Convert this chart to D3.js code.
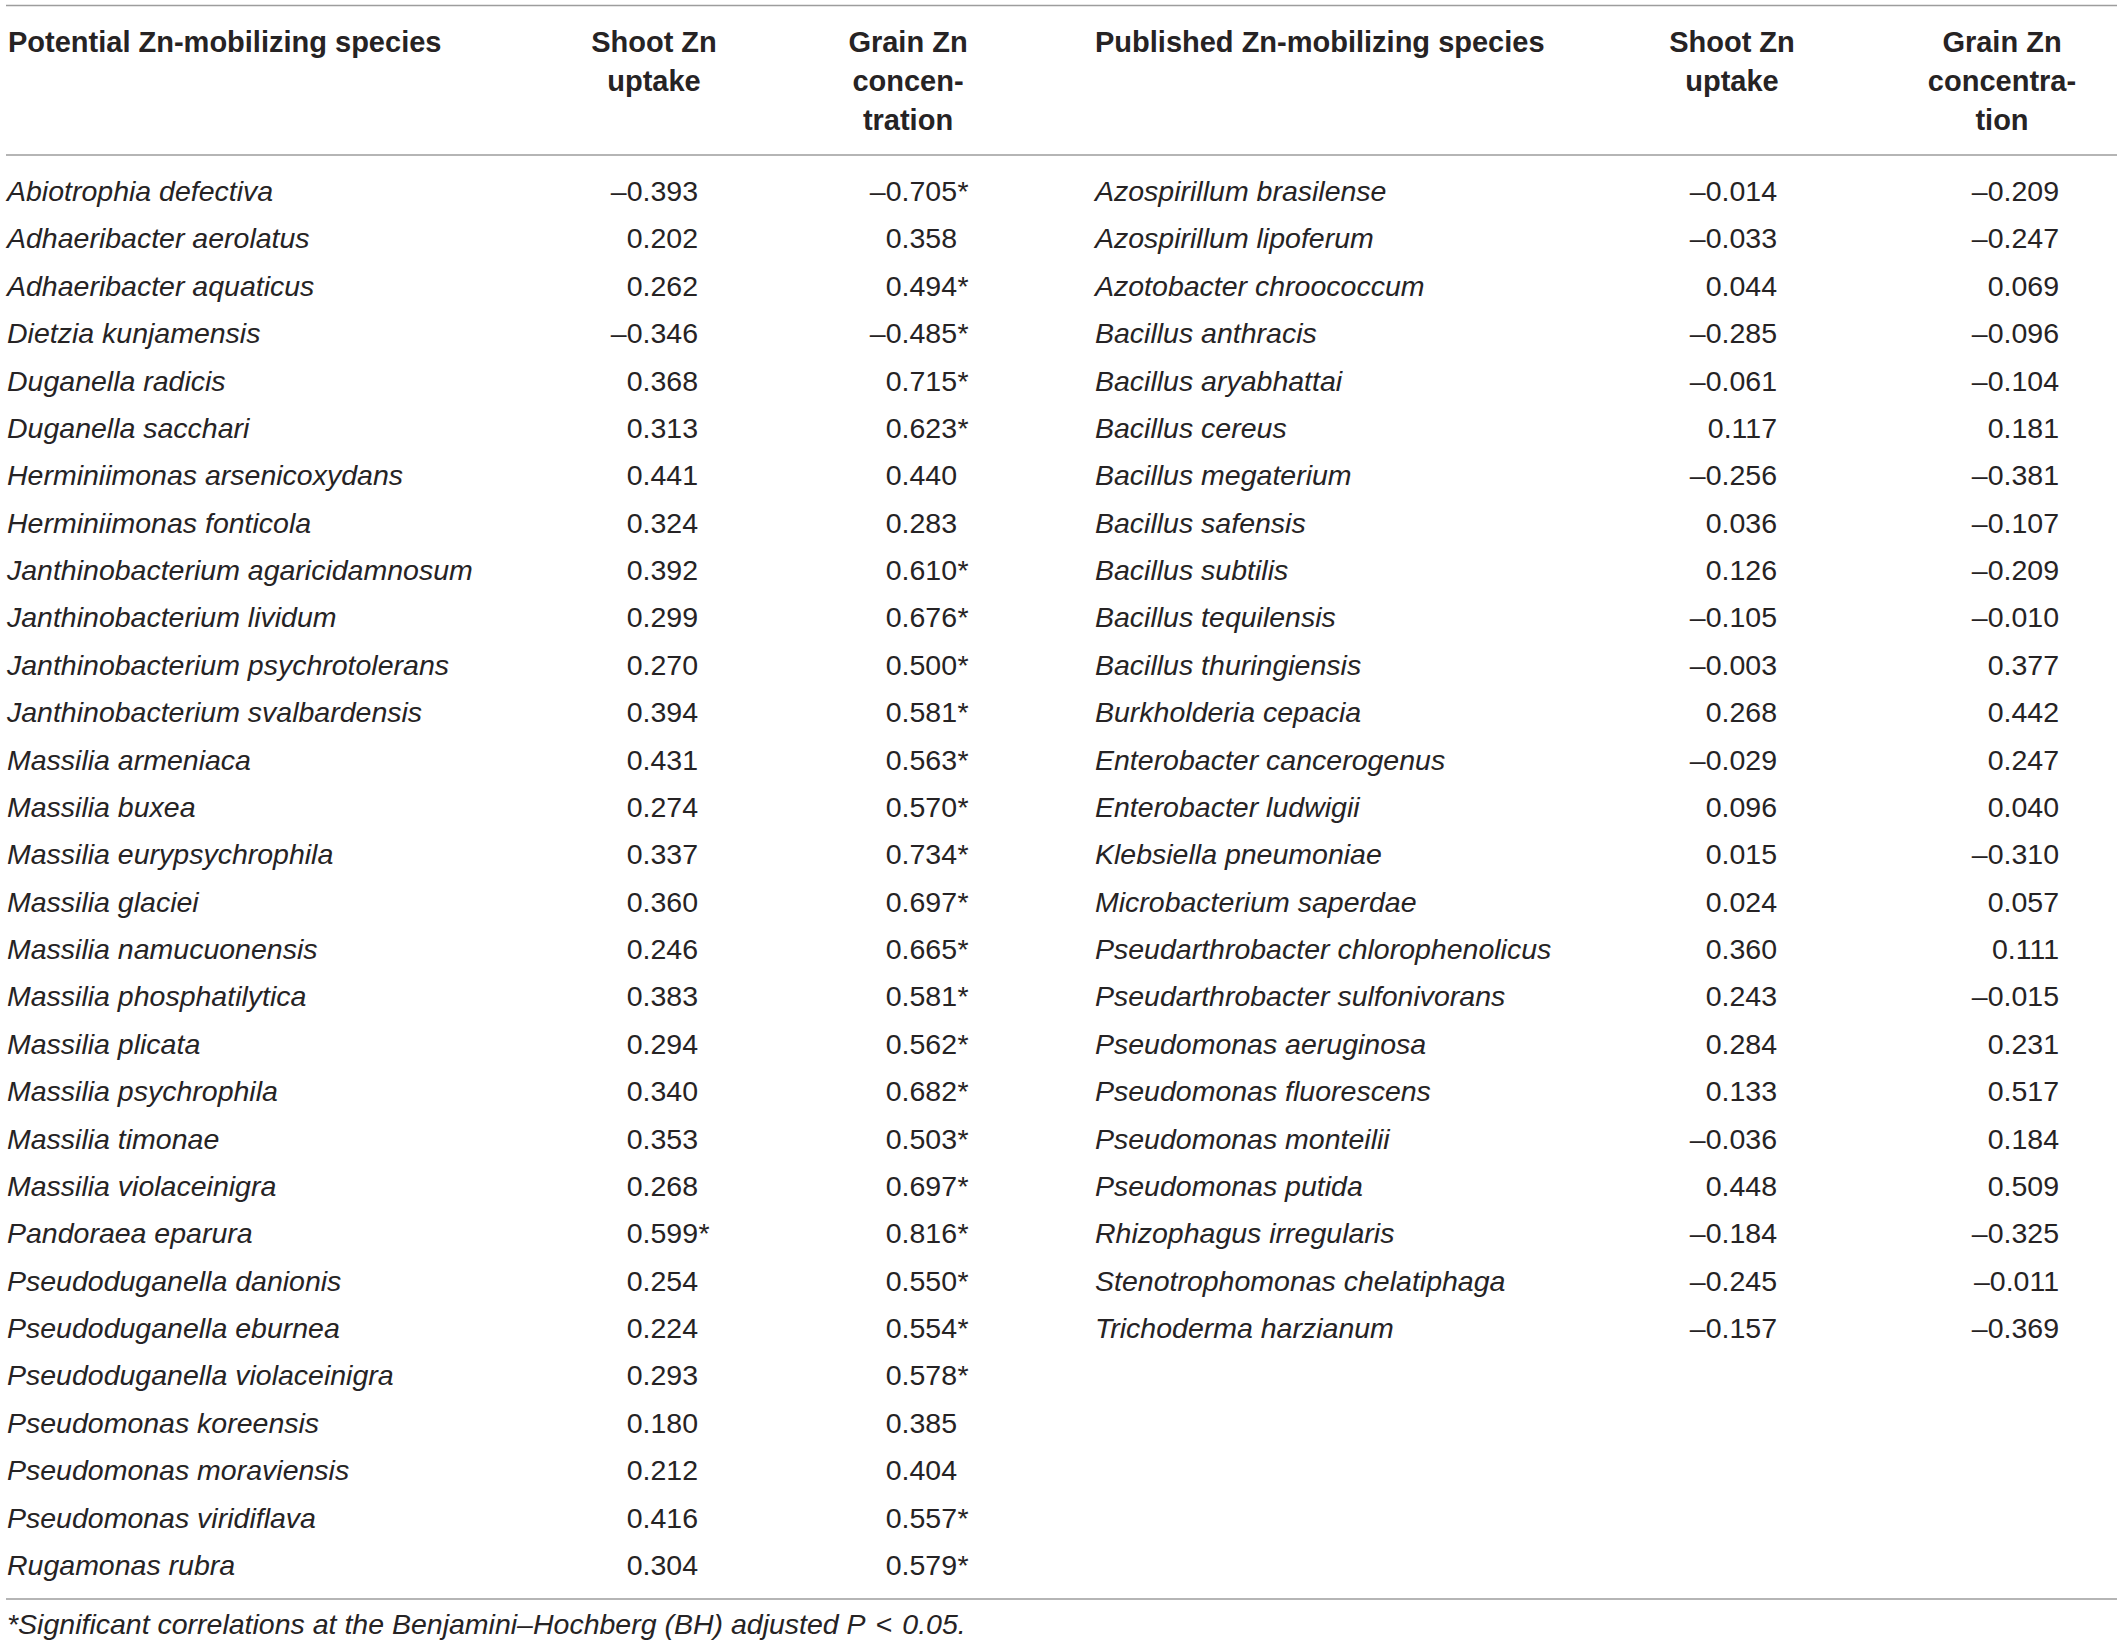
<!DOCTYPE html>
<html>
<head>
<meta charset="utf-8">
<script src="https://cdn.jsdelivr.net/npm/d3@7"></script>
<style>
  html, body { margin: 0; padding: 0; background: #fff; }
  svg { display: block; font-family: "Liberation Sans", Arial, Helvetica, sans-serif; }
</style>
</head>
<body>
<svg id="table" width="2120" height="1648"></svg>
<script>
// ---- data ----
const potentialSpecies = [
  'Abiotrophia defectiva', 'Adhaeribacter aerolatus', 'Adhaeribacter aquaticus', 'Dietzia kunjamensis',
  'Duganella radicis', 'Duganella sacchari', 'Herminiimonas arsenicoxydans', 'Herminiimonas fonticola',
  'Janthinobacterium agaricidamnosum', 'Janthinobacterium lividum', 'Janthinobacterium psychrotolerans',
  'Janthinobacterium svalbardensis', 'Massilia armeniaca', 'Massilia buxea', 'Massilia eurypsychrophila',
  'Massilia glaciei', 'Massilia namucuonensis', 'Massilia phosphatilytica', 'Massilia plicata',
  'Massilia psychrophila', 'Massilia timonae', 'Massilia violaceinigra', 'Pandoraea eparura',
  'Pseudoduganella danionis', 'Pseudoduganella eburnea', 'Pseudoduganella violaceinigra',
  'Pseudomonas koreensis', 'Pseudomonas moraviensis', 'Pseudomonas viridiflava', 'Rugamonas rubra'
];
const potentialShoot = [-0.393, 0.202, 0.262, -0.346, 0.368, 0.313, 0.441, 0.324, 0.392, 0.299, 0.270, 0.394,
  0.431, 0.274, 0.337, 0.360, 0.246, 0.383, 0.294, 0.340, 0.353, 0.268, 0.599, 0.254, 0.224, 0.293,
  0.180, 0.212, 0.416, 0.304];
const potentialShootSig = [0, 0, 0, 0, 0, 0, 0, 0, 0, 0, 0, 0, 0, 0, 0, 0, 0, 0, 0, 0, 0, 0, 1, 0, 0, 0, 0, 0, 0, 0];
const potentialGrain = [-0.705, 0.358, 0.494, -0.485, 0.715, 0.623, 0.440, 0.283, 0.610, 0.676, 0.500, 0.581,
  0.563, 0.570, 0.734, 0.697, 0.665, 0.581, 0.562, 0.682, 0.503, 0.697, 0.816, 0.550, 0.554, 0.578,
  0.385, 0.404, 0.557, 0.579];
const potentialGrainSig = [1, 0, 1, 1, 1, 1, 0, 0, 1, 1, 1, 1, 1, 1, 1, 1, 1, 1, 1, 1, 1, 1, 1, 1, 1, 1, 0, 0, 1, 1];

const publishedSpecies = [
  'Azospirillum brasilense', 'Azospirillum lipoferum', 'Azotobacter chroococcum', 'Bacillus anthracis',
  'Bacillus aryabhattai', 'Bacillus cereus', 'Bacillus megaterium', 'Bacillus safensis', 'Bacillus subtilis',
  'Bacillus tequilensis', 'Bacillus thuringiensis', 'Burkholderia cepacia', 'Enterobacter cancerogenus',
  'Enterobacter ludwigii', 'Klebsiella pneumoniae', 'Microbacterium saperdae',
  'Pseudarthrobacter chlorophenolicus', 'Pseudarthrobacter sulfonivorans', 'Pseudomonas aeruginosa',
  'Pseudomonas fluorescens', 'Pseudomonas monteilii', 'Pseudomonas putida', 'Rhizophagus irregularis',
  'Stenotrophomonas chelatiphaga', 'Trichoderma harzianum'
];
const publishedShoot = [-0.014, -0.033, 0.044, -0.285, -0.061, 0.117, -0.256, 0.036, 0.126, -0.105, -0.003,
  0.268, -0.029, 0.096, 0.015, 0.024, 0.360, 0.243, 0.284, 0.133, -0.036, 0.448, -0.184, -0.245, -0.157];
const publishedGrain = [-0.209, -0.247, 0.069, -0.096, -0.104, 0.181, -0.381, -0.107, -0.209, -0.010, 0.377,
  0.442, 0.247, 0.040, -0.310, 0.057, 0.111, -0.015, 0.231, 0.517, 0.184, 0.509, -0.325, -0.011, -0.369];

const headerPotential = ['Potential Zn-mobilizing species'];
const headerPublished = ['Published Zn-mobilizing species'];
const headerShoot = ['Shoot Zn', 'uptake'];
const headerGrainLeft = ['Grain Zn', 'concen-', 'tration'];
const headerGrainRight = ['Grain Zn', 'concentra-', 'tion'];
const footnote = '*Significant correlations at the Benjamini\u2013Hochberg (BH) adjusted ';

// ---- layout ----
const W = 2120, H = 1648;
const INK = '#262324', RULE = '#9d9d9d';
const FS = 28.5, FS_HEAD = 29;

const svg = d3.select('#table');
svg.append('rect').attr('width', W).attr('height', H).attr('fill', '#fff');

// row baseline scale (shared by both halves)
const y = d3.scaleLinear().domain([0, 29]).range([201, 1575]);
const headY = d3.scaleLinear().domain([0, 1]).range([52, 91]);

// column anchors
const col = d3.scaleOrdinal()
  .domain(['nameL', 'shootL', 'grainL', 'nameR', 'shootR', 'grainR'])
  .range([7, 698, 957, 1095, 1777, 2059]);
const headCol = d3.scaleOrdinal()
  .domain(['shootL', 'grainL', 'shootR', 'grainR'])
  .range([654, 908, 1732, 2002]);

const fmt = v => (v < 0 ? '\u2013' : '') + d3.format('.3f')(Math.abs(v));

// rules
[5.5, 155, 1599].forEach(yy => {
  svg.append('line').attr('x1', 6).attr('x2', 2117).attr('y1', yy).attr('y2', yy)
    .attr('stroke', RULE).attr('stroke-width', 1.6);
});

// headers
function header(lines, x, anchor) {
  svg.append('g').selectAll('text').data(lines).join('text')
    .attr('x', x).attr('y', (d, i) => headY(i))
    .attr('text-anchor', anchor)
    .attr('font-size', FS_HEAD).attr('font-weight', 700).attr('fill', INK)
    .text(d => d);
}
header(headerPotential, col('nameL') + 1, 'start');
header(headerShoot, headCol('shootL'), 'middle');
header(headerGrainLeft, headCol('grainL'), 'middle');
header(headerPublished, col('nameR'), 'start');
header(headerShoot, headCol('shootR'), 'middle');
header(headerGrainRight, headCol('grainR'), 'middle');

// body
function half(names, shoot, shootSig, grain, grainSig, side) {
  const rows = names.map((n, i) => ({
    name: n, shoot: shoot[i], grain: grain[i],
    sSig: shootSig ? shootSig[i] : 0, gSig: grainSig ? grainSig[i] : 0, i
  }));
  const g = svg.append('g').attr('fill', INK).attr('font-size', FS);

  g.selectAll('.name').data(rows).join('text')
    .attr('x', col('name' + side)).attr('y', d => y(d.i))
    .attr('font-style', 'italic')
    .text(d => d.name);

  [['shoot', 'sSig'], ['grain', 'gSig']].forEach(([k, s]) => {
    const x = col(k + side);
    g.selectAll('.' + k).data(rows).join('text')
      .attr('x', x).attr('y', d => y(d.i)).attr('text-anchor', 'end')
      .text(d => fmt(d[k]));
    g.selectAll('.' + k + 'sig').data(rows.filter(d => d[s])).join('text')
      .attr('x', x + 0.5).attr('y', d => y(d.i)).attr('text-anchor', 'start')
      .text('*');
  });
}
half(potentialSpecies, potentialShoot, potentialShootSig, potentialGrain, potentialGrainSig, 'L');
half(publishedSpecies, publishedShoot, null, publishedGrain, null, 'R');

// footnote
const fn = svg.append('text').attr('x', 7).attr('y', 1634)
  .attr('font-size', FS).attr('font-style', 'italic').attr('fill', INK);
fn.append('tspan').text(footnote);
fn.append('tspan').text('P');
fn.append('tspan').attr('dx', 10).attr('font-style', 'normal').text('<');
fn.append('tspan').attr('dx', 10).text('0.05.');
</script>
</body>
</html>
